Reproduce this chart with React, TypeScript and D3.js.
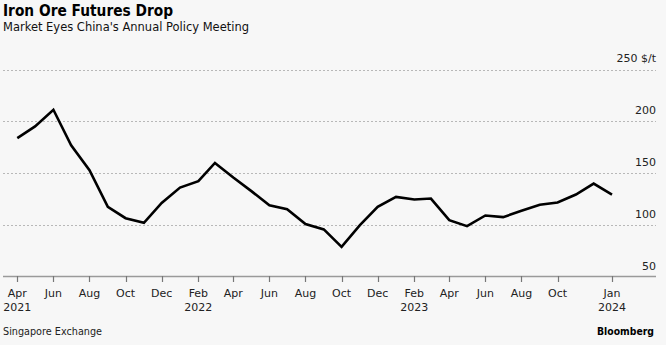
import React from "react";
import * as d3 from "d3";

const months: string[] = [
  "2021-04", "2021-05", "2021-06", "2021-07", "2021-08", "2021-09", "2021-10", "2021-11", "2021-12",
  "2022-01", "2022-02", "2022-03", "2022-04", "2022-05", "2022-06", "2022-07", "2022-08", "2022-09",
  "2022-10", "2022-11", "2022-12", "2023-01", "2023-02", "2023-03", "2023-04", "2023-05", "2023-06",
  "2023-07", "2023-08", "2023-09", "2023-10", "2023-11", "2023-12", "2024-01",
];
const prices: number[] = [
  183.9, 195.2, 211.2, 176.9, 152.9, 117.6, 106.7, 102.2, 121.4,
  136.2, 142.3, 159.9, 145.9, 133.0, 119.2, 115.4, 101.0, 95.9,
  79.1, 100.0, 117.6, 127.2, 124.7, 125.6, 104.8, 99.0, 109.3,
  107.7, 113.8, 119.6, 121.8, 129.5, 140.1, 129.5,
];
const yTicks: number[] = [50, 100, 150, 200, 250];
const xTicks: string[] = [
  "2021-04", "2021-06", "2021-08", "2021-10", "2021-12", "2022-02", "2022-04", "2022-06", "2022-08",
  "2022-10", "2022-12", "2023-02", "2023-04", "2023-06", "2023-08", "2023-10", "2024-01",
];
const yearLabels: Record<string, string> = {
  "2021-04": "2021",
  "2022-02": "2022",
  "2023-02": "2023",
  "2024-01": "2024",
};
const title = "Iron Ore Futures Drop";
const subtitle = "Market Eyes China's Annual Policy Meeting";
const source = "Singapore Exchange";
const brand = "Bloomberg";
const unit = "$/t";

const W = 666;
const H = 345;
const FONT = "Tahoma, 'DejaVu Sans', Verdana, sans-serif";

const parse = d3.timeParse("%Y-%m");

export default function App() {
  const x = d3
    .scaleTime()
    .domain([parse("2021-04") as Date, parse("2024-01") as Date])
    .range([17.3, 612]);
  const y = d3.scaleLinear().domain([50, 250]).range([277, 69.5]);

  const data = months.map((m, i) => ({ d: parse(m) as Date, v: prices[i] }));
  const line = d3
    .line<{ d: Date; v: number }>()
    .x((p) => x(p.d))
    .y((p) => y(p.v));

  const left = 3;
  const right = 656;

  return (
    <div style={{ position: "absolute", left: 0, top: 0 }}>
      <svg width={W} height={H} style={{ display: "block", fontFamily: FONT }}>
        <rect x={0} y={0} width={W} height={H} fill="#f7f7f7" />
        <text x={3} y={16} fontSize={15} fontWeight="bold" fill="#000" textLength={170} lengthAdjust="spacingAndGlyphs">
          {title}
        </text>
        <text x={3} y={31} fontSize={12} fill="#111" textLength={246} lengthAdjust="spacingAndGlyphs">
          {subtitle}
        </text>

        {yTicks.map((t) => (
          <g key={t}>
            {t !== 50 && (
              <line
                x1={left}
                x2={right}
                y1={Math.round(y(t)) + 0.5}
                y2={Math.round(y(t)) + 0.5}
                stroke="#b8b8b8"
                strokeWidth={1}
                strokeDasharray="2,2"
              />
            )}
            <text x={right} y={y(t) - 7.5} fontSize={11} textAnchor="end" fill="#222">
              {t === 250 ? `${t} ${unit}` : t}
            </text>
          </g>
        ))}

        <line x1={left} x2={right} y1={276.5} y2={276.5} stroke="#9a9a9a" strokeWidth={1.6} />
        {xTicks.map((m) => {
          const d = parse(m) as Date;
          const xx = Math.round(x(d)) + 0.5;
          const mon = d3.timeFormat("%b")(d);
          return (
            <g key={m}>
              <line x1={xx} x2={xx} y1={276} y2={282} stroke="#777" strokeWidth={1.2} />
              <text x={x(d)} y={297} fontSize={11} textAnchor="middle" fill="#222">
                {mon}
              </text>
              {yearLabels[m] && (
                <text x={x(d)} y={311} fontSize={11} textAnchor="middle" fill="#222">
                  {yearLabels[m]}
                </text>
              )}
            </g>
          );
        })}

        <path
          d={line(data) || ""}
          fill="none"
          stroke="#000"
          strokeWidth={2.6}
          strokeLinejoin="miter"
        />

        <text x={3} y={335} fontSize={11} fill="#222" textLength={99} lengthAdjust="spacingAndGlyphs">
          {source}
        </text>
        <text x={597} y={335} fontSize={11} fontWeight="bold" fill="#000" textLength={57} lengthAdjust="spacingAndGlyphs">
          {brand}
        </text>
      </svg>
    </div>
  );
}
